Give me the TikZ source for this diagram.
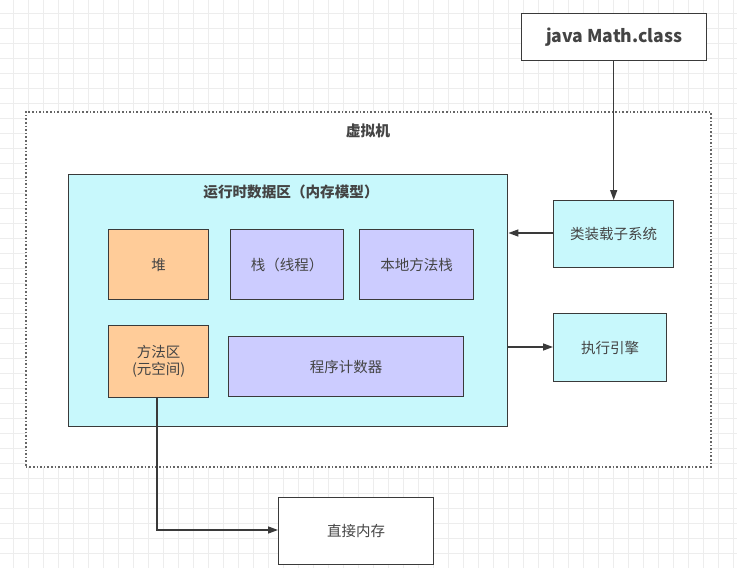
\documentclass[tikz,border=0pt]{standalone}
\usepackage{fontspec}
\setmainfont{Noto Sans CJK SC}
\usetikzlibrary{arrows.meta,positioning}
\definecolor{ln}{HTML}{3A3A3A}
\definecolor{cyanf}{HTML}{C8F8FC}
\definecolor{orangef}{HTML}{FFCC99}
\definecolor{lavf}{HTML}{CCCCFF}
\definecolor{gridc}{HTML}{EDEDED}
\definecolor{txt}{HTML}{444444}
\tikzset{
  box/.style={draw=ln, line width=1.4pt, rectangle, minimum width=#1, inner sep=0pt, text=txt, font=\fontsize{14.5}{17}\selectfont, align=center},
  box/.default=10pt,
  arr/.style={draw=ln, line width=1.4pt, -{Triangle[length=10pt,width=7pt]}},
}
\begin{document}
\begin{tikzpicture}[x=1pt,y=-1pt]
\useasboundingbox (0,0) rectangle (737,568);
\fill[white] (0,0) rectangle (737,568);
% grid
\foreach \gx in {13,28,...,737} \draw[gridc, line width=0.7pt] (\gx,0) -- (\gx,568);
\foreach \gy in {13,28,...,568} \draw[gridc, line width=0.7pt] (0,\gy) -- (737,\gy);
% VM dotted box
\node[draw=gray!80!black, line width=1.6pt, dash pattern=on 1.6pt off 2pt, fill=white, rectangle, minimum width=685pt, minimum height=355pt, anchor=north west, inner sep=0pt] (vm) at (25,111) {};
\node[font=\bfseries\fontsize{14.8}{17}\selectfont, text=txt] (vmt) at (368,131) {虚拟机};
% runtime area
\node[box, fill=cyanf, minimum width=439pt, minimum height=252pt, anchor=north west] (rt) at (68,174) {};
\node[font=\bfseries\fontsize{14.6}{17}\selectfont, text=txt] (rtt) at (291,192) {运行时数据区（内存模型）};
% inner boxes
\node[box, fill=orangef, minimum width=100pt, minimum height=70pt, anchor=north west] (heap) at (108,229) {堆};
\node[box, fill=lavf, minimum width=113pt, minimum height=70pt, anchor=north west] (stack) at (230,229) {栈（线程）};
\node[box, fill=lavf, minimum width=114pt, minimum height=70pt, anchor=north west] (nstack) at (359,229) {本地方法栈};
\node[box, fill=orangef, minimum width=100pt, minimum height=72pt, anchor=north west] (meth) at (108,325) {方法区\\(元空间)};
\node[box, fill=lavf, minimum width=235pt, minimum height=60pt, anchor=north west] (pc) at (228,336) {程序计数器};
% right boxes
\node[box, fill=cyanf, minimum width=120pt, minimum height=67pt, anchor=north west] (cls) at (553,200) {类装载子系统};
\node[box, fill=cyanf, minimum width=113pt, minimum height=68pt, anchor=north west] (exe) at (553,313) {执行引擎};
% top and bottom white boxes
\node[box, fill=white, minimum width=185pt, minimum height=47pt, anchor=north west, font=\bfseries\fontsize{17.6}{20}\selectfont] (java) at (521,13) {java Math.class};
\node[box, fill=white, minimum width=155pt, minimum height=67pt, anchor=north west] (dm) at (278,497) {直接内存};
% connectors
\draw[arr] (java.south -| cls.north) -- (cls.north);
\draw[arr] (cls.west |- 0,233) -- (rt.east |- 0,233);
\draw[arr] (rt.east |- 0,347) -- (exe.west |- 0,347);
\coordinate (bend) at (157,530);
\draw[arr] (meth.south -| bend) -- (bend) -- (dm.west |- bend);
\end{tikzpicture}
\end{document}
